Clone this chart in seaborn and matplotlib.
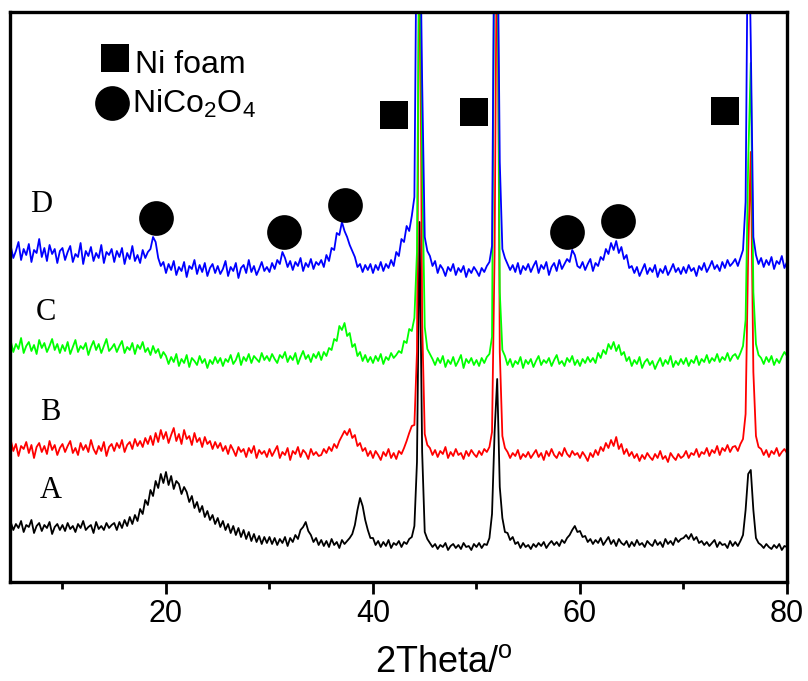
import numpy as np
import matplotlib
matplotlib.use('Agg')
import matplotlib.pyplot as plt
import seaborn as sns

# XRD scan: 2theta from 5 to 80 deg, 0.25 deg step
SCAN_START = 5.0
SCAN_STEP = 0.25

A_black = [
    60, 52, 58, 54, 61, 50, 57, 55, 62, 49, 56, 59, 51, 57, 54, 60, 48, 55, 58, 52,
    57, 51, 59, 53, 56, 50, 58, 54, 61, 52, 55, 57, 49, 60, 53, 56, 52, 59, 54, 57,
    59, 52, 60, 54, 62, 56, 65, 58, 67, 61, 73, 68, 82, 77, 92, 86, 101, 94, 108, 99,
    110, 97, 106, 93, 101, 98, 88, 95, 90, 80, 86, 74, 80, 70, 76, 65, 71, 62, 67, 58,
    64, 55, 61, 52, 58, 49, 56, 47, 54, 45, 52, 43, 50, 41, 48, 40, 46, 38, 45, 39,
    45, 38, 44, 37, 43, 39, 45, 36, 44, 40, 47, 43, 52, 55, 60, 51, 47, 40, 44, 37,
    42, 36, 41, 35, 43, 37, 40, 34, 42, 38, 41, 44, 48, 57, 72, 84, 76, 62, 52, 44,
    44, 37, 41, 35, 40, 36, 42, 34, 39, 37, 41, 35, 40, 38, 43, 45, 56, 120, 360, 130,
    50, 43, 39, 35, 38, 33, 37, 35, 39, 32, 36, 38, 34, 37, 33, 39, 35, 36, 32, 38,
    35, 39, 34, 38, 37, 44, 68, 150, 203, 95, 64, 50, 49, 42, 45, 38, 40, 34, 39, 35,
    37, 33, 38, 35, 39, 36, 40, 34, 38, 41, 37, 40, 36, 42, 39, 44, 47, 52, 56, 50,
    51, 45, 46, 40, 43, 38, 42, 39, 44, 37, 41, 45, 38, 42, 36, 43, 39, 37, 41, 35,
    40, 36, 42, 37, 39, 35, 41, 38, 36, 42, 37, 40, 35, 43, 38, 41, 37, 44, 40, 43,
    44, 47, 43, 48, 42, 45, 39, 41, 37, 40, 36, 39, 42, 35, 40, 37, 38, 34, 41, 36,
    40, 36, 41, 47, 72, 108, 112, 72, 44, 39, 37, 34, 38, 35, 33, 37, 34, 38, 32, 36,
    35,
]

B_red = [
    142, 131, 138, 126, 136, 133, 140, 129, 137, 124, 135, 139, 130, 136, 128, 141, 132, 137, 127, 134,
    138, 130, 136, 141, 129, 134, 127, 139, 132, 137, 130, 142, 133, 128, 136, 131, 140, 126, 135, 138,
    131, 139, 134, 142, 130, 137, 140, 133, 143, 136, 141, 135, 144, 138, 146, 137, 149, 140, 152, 143,
    150, 139, 147, 154, 141, 148, 138, 152, 143, 146, 137, 149, 140, 144, 135, 145, 138, 141, 133, 140,
    134, 139, 131, 136, 128, 137, 132, 126, 135, 130, 133, 125, 134, 129, 136, 124, 132, 128, 131, 125,
    133, 126, 131, 136, 124, 130, 127, 134, 122, 131, 128, 135, 125, 132, 129, 123, 133, 127, 130, 126,
    127, 133, 129, 135, 131, 138, 134, 141, 146, 151, 147, 153, 144, 147, 136, 139, 131, 134, 126, 131,
    124, 131, 127, 122, 130, 126, 133, 124, 129, 123, 131, 128, 134, 141, 149, 156, 157, 230, 700, 260,
    148, 137, 134, 127, 132, 125, 131, 128, 135, 124, 130, 126, 133, 127, 129, 123, 131, 126, 132, 128,
    125, 131, 127, 133, 130, 135, 150, 330, 700, 230, 146, 134, 130, 124, 129, 126, 132, 123, 128, 125,
    130, 124, 128, 132, 125, 129, 122, 131, 126, 133, 127, 124, 130, 126, 134, 128, 125, 131, 127, 129,
    124, 130, 126, 121, 129, 125, 132, 127, 135, 131, 139, 134, 142, 136, 145, 133, 138, 128, 133, 126,
    130, 124, 128, 121, 127, 123, 129, 125, 122, 128, 124, 131, 123, 126, 120, 129, 125, 122, 128, 124,
    126, 131, 124, 129, 127, 133, 125, 130, 128, 134, 126, 132, 129, 136, 127, 134, 131, 137, 130, 135,
    136, 131, 138, 143, 168, 330, 430, 210, 146, 135, 133, 127, 132, 125, 131, 128, 134, 126, 130, 133,
    129,
]

C_green = [
    241, 230, 238, 233, 244, 229, 236, 240, 231, 237, 228, 242, 234, 239, 230, 236, 243, 232, 238, 229,
    237, 231, 240, 228, 235, 242, 230, 236, 233, 239, 227, 235, 241, 232, 238, 229, 236, 243, 231, 234,
    238, 230, 236, 241, 229, 235, 232, 239, 228, 237, 233, 240, 230, 234, 227, 236, 229, 233, 224, 230,
    226, 218, 225, 220, 228, 216, 223, 219, 227, 215, 224, 221, 217, 226, 219, 223, 214, 222, 218, 225,
    219, 224, 216, 223, 220, 227, 218, 222, 229, 217, 225, 221, 228, 219, 226, 223, 220, 229, 222, 226,
    221, 228, 223, 219, 227, 224, 230, 220, 226, 222, 229, 218, 225, 231, 223, 227, 220, 228, 224, 230,
    222, 230, 226, 234, 232, 243, 241, 256, 252, 259, 246, 249, 235, 238, 226, 230, 221, 227, 220, 225,
    219, 226, 221, 228, 218, 225, 222, 229, 224, 227, 231, 229, 241, 239, 253, 251, 264, 330, 700, 420,
    255, 233, 228, 223, 217, 224, 219, 226, 215, 222, 218, 225, 216, 221, 227, 214, 223, 219, 224, 217,
    222, 216, 224, 219, 225, 228, 245, 700, 700, 290, 232, 226, 217, 223, 215, 221, 218, 225, 214, 222,
    218, 223, 215, 221, 226, 217, 222, 219, 224, 216, 222, 227, 218, 221, 216, 224, 220, 226, 217, 222,
    216, 223, 219, 225, 220, 224, 219, 229, 224, 232, 228, 238, 233, 240, 231, 237, 227, 230, 221, 225,
    216, 222, 218, 225, 214, 220, 223, 217, 221, 213, 219, 224, 216, 222, 218, 226, 215, 221, 217, 223,
    218, 224, 216, 222, 219, 226, 217, 223, 220, 227, 219, 224, 221, 228, 220, 225, 222, 229, 221, 226,
    228, 223, 229, 236, 262, 420, 519, 290, 238, 227, 224, 218, 225, 220, 226, 217, 223, 219, 225, 230,
    226,
]

D_blue = [
    336, 324, 331, 340, 322, 333, 327, 338, 320, 332, 329, 343, 325, 334, 321, 337, 328, 333, 319, 331,
    334, 322, 330, 336, 320, 328, 325, 339, 318, 331, 326, 335, 321, 329, 324, 337, 319, 330, 327, 333,
    320, 331, 325, 334, 318, 329, 323, 336, 321, 327, 319, 332, 324, 330, 333, 345, 340, 324, 316, 320,
    309, 318, 312, 321, 307, 315, 311, 320, 305, 316, 313, 322, 308, 317, 310, 319, 306, 314, 318, 309,
    316, 308, 313, 321, 306, 315, 311, 319, 304, 314, 317, 309, 322, 310, 316, 307, 313, 320, 311, 315,
    310, 319, 313, 322, 318, 330, 324, 315, 321, 312, 320, 316, 324, 311, 319, 315, 323, 313, 320, 317,
    322, 315, 327, 321, 334, 332, 349, 347, 360, 351, 345, 337, 331, 325, 315, 318, 310, 317, 312, 318,
    309, 317, 312, 320, 311, 318, 314, 322, 316, 330, 326, 343, 340, 356, 351, 366, 385, 700, 700, 500,
    345, 331, 326, 316, 321, 309, 317, 313, 306, 315, 311, 318, 307, 314, 310, 316, 305, 313, 309, 315,
    311, 306, 314, 310, 316, 320, 336, 700, 700, 420, 333, 324, 318, 312, 317, 310, 319, 308, 316, 312,
    318, 310, 316, 321, 309, 317, 313, 320, 307, 315, 319, 311, 322, 313, 318, 323, 320, 332, 327, 316,
    314, 320, 312, 318, 323, 311, 319, 316, 325, 322, 333, 328, 339, 332, 341, 329, 335, 323, 327, 314,
    316, 309, 315, 306, 312, 318, 308, 314, 310, 317, 305, 313, 309, 316, 307, 312, 318, 310, 314, 308,
    315, 309, 317, 311, 314, 306, 316, 312, 319, 310, 315, 321, 313, 317, 311, 320, 314, 322, 316, 319,
    323, 316, 324, 332, 380, 700, 540, 345, 327, 318, 324, 315, 322, 317, 325, 313, 321, 318, 326, 314,
    320,
]

SERIES = [('A', A_black, '#000000'), ('B', B_red, '#ff0000'),
          ('C', C_green, '#00ff00'), ('D', D_blue, '#0000ff')]

# sample labels (2theta, height)
LABEL_POS = {'A': (8.9, 91), 'B': (8.8, 170), 'C': (8.4, 269), 'D': (7.9, 378)}

# phase markers
NI_FOAM_POS = [(42.0, 467), (49.8, 470), (74.0, 471)]
NICO2O4_POS = [(19.0, 364), (31.4, 350), (37.3, 377), (58.7, 350), (63.7, 361)]

sns.set_style('white')
plt.rcParams['font.family'] = ['Liberation Sans', 'DejaVu Sans']
plt.rcParams['mathtext.fontset'] = 'custom'
plt.rcParams['mathtext.rm'] = 'Liberation Sans'
plt.rcParams['text.color'] = 'black'
plt.rcParams['axes.labelcolor'] = 'black'
plt.rcParams['xtick.color'] = 'black'

fig = plt.figure(figsize=(8.08, 6.81), dpi=100)
ax = fig.add_axes([10 / 808, 99 / 681, 777 / 808, 570 / 681])

for name, vals, col in SERIES:
    assert len(vals) == 301, (name, len(vals))
    x = SCAN_START + SCAN_STEP * np.arange(len(vals))
    sns.lineplot(x=x, y=vals, color=col, lw=1.3, ax=ax, estimator=None, sort=False)

for name, (px, py) in LABEL_POS.items():
    ax.text(px, py, name, family='Liberation Serif', fontsize=22, ha='center', va='center')

ax.plot([p[0] for p in NI_FOAM_POS], [p[1] for p in NI_FOAM_POS], 's', color='black',
        ms=19.5, mew=0, ls='none')
ax.plot([p[0] for p in NICO2O4_POS], [p[1] for p in NICO2O4_POS], 'o', color='black',
        ms=25, mew=0, ls='none')

# legend drawn by hand like the original
ax.plot([15.07], [524], 's', color='black', ms=19.5, mew=0)
ax.plot([14.8], [479], 'o', color='black', ms=25, mew=0)
ax.text(17.0, 509, 'Ni foam', fontsize=23, va='baseline', ha='left')
ax.text(16.7, 469, r'NiCo$_\mathregular{2}$O$_\mathregular{4}$', fontsize=23, va='baseline', ha='left')

ax.set_xlim(4.93, 80)
ax.set_ylim(0, 570)
ax.set_yticks([])
ax.set_xticks([20, 40, 60, 80])
ax.set_xticks([10, 30, 50, 70], minor=True)
ax.tick_params(axis='x', which='major', direction='out', length=8.5, width=2, pad=4,
               labelsize=22, bottom=True, labelcolor='black')
ax.tick_params(axis='x', which='minor', direction='out', length=5, width=2, bottom=True)
ax.set_xlabel(r'2Theta/$^\mathregular{o}$', fontsize=26)
ax.xaxis.set_label_coords((444 - 10) / 777, (582 - 645) / 570)
ax.set_ylabel('')
for sp in ax.spines.values():
    sp.set_linewidth(2.4)
    sp.set_color('black')

fig.savefig('out.png', dpi=100)
